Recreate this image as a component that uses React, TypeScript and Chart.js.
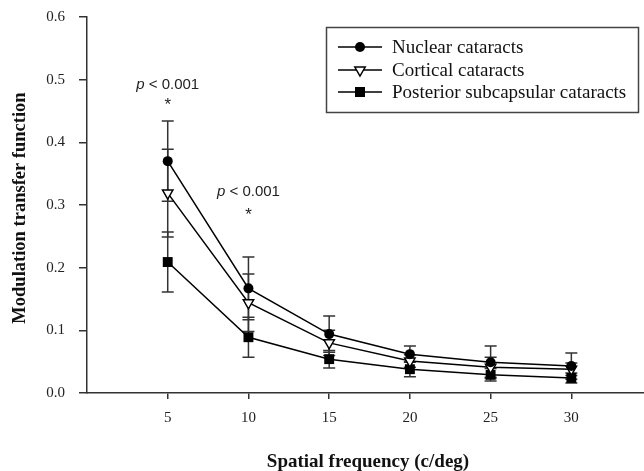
import React, { useEffect, useRef } from "react";
import { Chart, registerables } from "chart.js";

Chart.register(...registerables);

// ---- data ----
const freq = [5, 10, 15, 20, 25, 30];
const nuclear = [0.370, 0.167, 0.094, 0.062, 0.049, 0.043];
const nuclearErr = [0.064, 0.050, 0.029, 0.013, 0.026, 0.021];
const cortical = [0.319, 0.144, 0.080, 0.051, 0.041, 0.038];
const corticalErr = [0.070, 0.046, 0.020, 0.010, 0.016, 0.010];
const posterior = [0.209, 0.089, 0.054, 0.038, 0.029, 0.024];
const posteriorErr = [0.048, 0.032, 0.014, 0.012, 0.010, 0.008];
const seriesNames = ["Nuclear cataracts", "Cortical cataracts", "Posterior subcapsular cataracts"];
const xTicks = [5, 10, 15, 20, 25, 30];
const annotationX = [5, 10];
const annotationTextY = [0.491, 0.321];
const annotationStarY = [0.459, 0.283];
const annotationText = "< 0.001";

const SERIF = '"Liberation Serif", "Times New Roman", serif';
const SANS = '"Liberation Sans", Arial, sans-serif';

function drawMarker(ctx: CanvasRenderingContext2D, kind: number, x: number, y: number) {
  ctx.save();
  ctx.lineWidth = 1.5;
  ctx.strokeStyle = "#000";
  ctx.beginPath();
  if (kind === 0) {
    ctx.arc(x, y, 5, 0, Math.PI * 2);
    ctx.fillStyle = "#000";
    ctx.fill();
  } else if (kind === 1) {
    const r = 6;
    ctx.moveTo(x, y + r);
    ctx.lineTo(x - r * Math.sin(Math.PI / 3), y - r / 2);
    ctx.lineTo(x + r * Math.sin(Math.PI / 3), y - r / 2);
    ctx.closePath();
    ctx.fillStyle = "#fff";
    ctx.fill();
    ctx.stroke();
  } else {
    ctx.rect(x - 5, y - 5, 10, 10);
    ctx.fillStyle = "#000";
    ctx.fill();
  }
  ctx.restore();
}

const errs = [nuclearErr, corticalErr, posteriorErr];
const vals = [nuclear, cortical, posterior];

const errorBarPlugin = {
  id: "errorBars",
  beforeDatasetsDraw(chart: any) {
    const { ctx, scales } = chart;
    const xs = scales.x, ys = scales.y;
    ctx.save();
    ctx.strokeStyle = "#333";
    ctx.lineWidth = 1.5;
    for (let s = 0; s < vals.length; s++) {
      for (let i = 0; i < freq.length; i++) {
        const x = xs.getPixelForValue(freq[i]);
        const yt = ys.getPixelForValue(vals[s][i] + errs[s][i]);
        const yb = ys.getPixelForValue(vals[s][i] - errs[s][i]);
        ctx.beginPath();
        ctx.moveTo(x, yt); ctx.lineTo(x, yb);
        ctx.moveTo(x - 6, yt); ctx.lineTo(x + 6, yt);
        ctx.moveTo(x - 6, yb); ctx.lineTo(x + 6, yb);
        ctx.stroke();
      }
    }
    ctx.restore();
  },
};

const decorPlugin = {
  id: "decor",
  afterDraw(chart: any) {
    const { ctx, scales } = chart;
    const xs = scales.x, ys = scales.y;
    ctx.save();
    // annotations
    ctx.fillStyle = "#222";
    ctx.textBaseline = "middle";
    for (let i = 0; i < annotationX.length; i++) {
      const cx = xs.getPixelForValue(annotationX[i]);
      const ty = ys.getPixelForValue(annotationTextY[i]);
      ctx.font = `italic 15px ${SANS}`;
      const wp = ctx.measureText("p").width;
      ctx.font = `15px ${SANS}`;
      const rest = " " + annotationText;
      const wr = ctx.measureText(rest).width;
      const left = cx - (wp + wr) / 2;
      ctx.textAlign = "left";
      ctx.font = `italic 15px ${SANS}`;
      ctx.fillText("p", left, ty);
      ctx.font = `15px ${SANS}`;
      ctx.fillText(rest, left + wp, ty);
      ctx.textAlign = "center";
      ctx.font = `17px ${SANS}`;
      ctx.fillText("*", cx, ys.getPixelForValue(annotationStarY[i]));
    }
    // axis titles
    ctx.fillStyle = "#111";
    ctx.textAlign = "center";
    ctx.textBaseline = "middle";
    ctx.font = `bold 19px ${SERIF}`;
    ctx.fillText("Spatial frequency (c/deg)", 368, 462);
    ctx.save();
    ctx.translate(20, 208);
    ctx.rotate(-Math.PI / 2);
    ctx.font = `bold 18.5px ${SERIF}`;
    ctx.fillText("Modulation transfer function", 0, 0);
    ctx.restore();
    // legend
    ctx.strokeStyle = "#444";
    ctx.lineWidth = 1.5;
    ctx.strokeRect(326.5, 27.5, 312, 85);
    const rows = [47, 70, 92];
    ctx.font = `19px ${SERIF}`;
    ctx.textAlign = "left";
    ctx.textBaseline = "middle";
    for (let s = 0; s < 3; s++) {
      const y = rows[s];
      ctx.strokeStyle = "#000";
      ctx.lineWidth = 1.5;
      ctx.beginPath();
      ctx.moveTo(338, y); ctx.lineTo(382, y);
      ctx.stroke();
      drawMarker(ctx, s, 360, y);
      ctx.fillStyle = "#111";
      ctx.fillText(seriesNames[s], 392, y + 1);
    }
    ctx.restore();
  },
};

const zeroPad = (s: any) => {
  s.paddingLeft = 0; s.paddingRight = 0; s.paddingTop = 0; s.paddingBottom = 0;
};

export default function App() {
  const ref = useRef<HTMLCanvasElement | null>(null);
  useEffect(() => {
    if (!ref.current) return;
    const mk = (v: number[]) => freq.map((f, i) => ({ x: f, y: v[i] }));
    const chart = new Chart(ref.current, {
      type: "line",
      data: {
        datasets: [
          {
            label: seriesNames[0], data: mk(nuclear), borderColor: "#000", borderWidth: 1.5,
            pointStyle: "circle", pointRadius: 5, pointBackgroundColor: "#000", pointBorderColor: "#000", pointBorderWidth: 0,
          },
          {
            label: seriesNames[1], data: mk(cortical), borderColor: "#000", borderWidth: 1.5,
            pointStyle: "triangle", rotation: 180, pointRadius: 6, pointBackgroundColor: "#fff", pointBorderColor: "#000", pointBorderWidth: 1.5,
          },
          {
            label: seriesNames[2], data: mk(posterior), borderColor: "#000", borderWidth: 1.5,
            pointStyle: "rect", pointRadius: 7, pointBackgroundColor: "#000", pointBorderColor: "#000", pointBorderWidth: 0,
          },
        ] as any,
      },
      options: {
        animation: false,
        responsive: false,
        maintainAspectRatio: false,
        layout: { autoPadding: false, padding: { top: 17, left: 0, right: 0, bottom: 0 } },
        plugins: { legend: { display: false }, tooltip: { enabled: false } },
        elements: { line: { tension: 0 } },
        clip: false as any,
        scales: {
          x: {
            type: "linear",
            min: 0,
            max: 34.5,
            afterBuildTicks: (s: any) => { s.ticks = xTicks.map((v) => ({ value: v })); },
            afterFit: (s: any) => { s.height = 78; zeroPad(s); },
            grid: { drawOnChartArea: false, drawTicks: true, tickLength: 6, color: "#333", lineWidth: 1.5 },
            border: { display: true, color: "#333", width: 1.5 },
            ticks: { color: "#222", font: { family: SERIF, size: 15 }, padding: 10, maxRotation: 0, autoSkip: false },
          },
          y: {
            type: "linear",
            min: 0,
            max: 0.6,
            afterFit: (s: any) => { s.width = 87; zeroPad(s); },
            grid: { drawOnChartArea: false, drawTicks: true, tickLength: 8, color: "#333", lineWidth: 1.5 },
            border: { display: true, color: "#333", width: 1.5 },
            ticks: { stepSize: 0.1, color: "#222", font: { family: SERIF, size: 15 }, padding: 14, callback: (v: any) => Number(v).toFixed(1) },
          },
        },
      } as any,
      plugins: [errorBarPlugin, decorPlugin],
    });
    return () => chart.destroy();
  }, []);
  return (
    <div style={{ position: "absolute", left: 0, top: 0, width: 644, height: 471, background: "#fff" }}>
      <canvas ref={ref} width={644} height={471} style={{ width: 644, height: 471 }} />
    </div>
  );
}
